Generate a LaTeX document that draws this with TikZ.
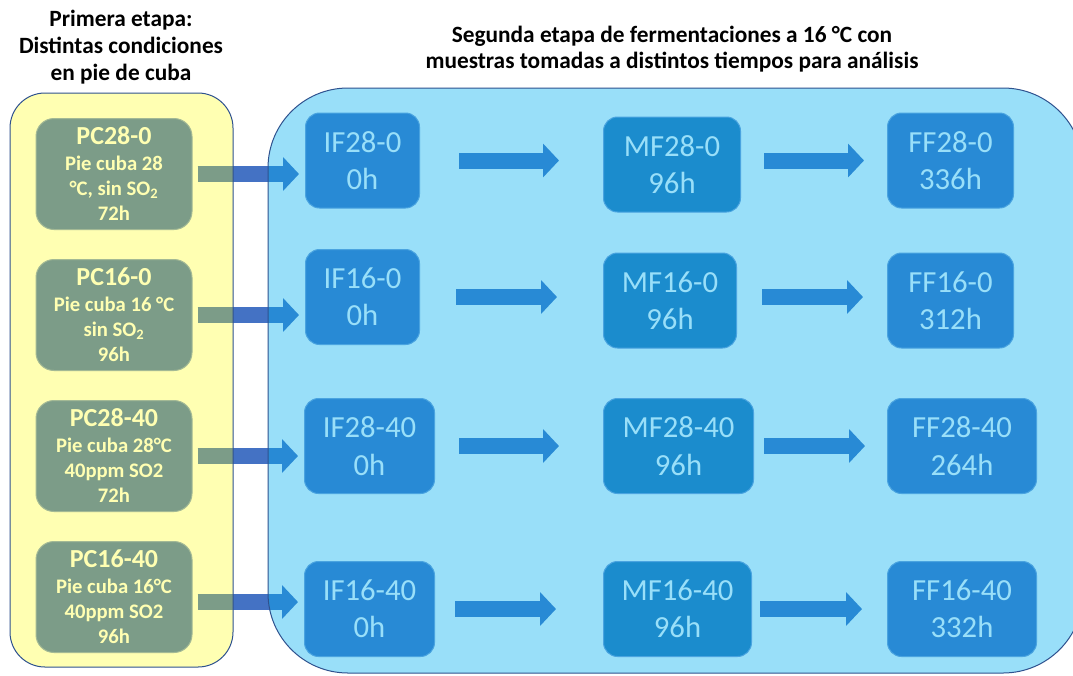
\documentclass[tikz,border=0pt]{standalone}
\usepackage{fontspec}
\setmainfont{Carlito}
\usepackage{xcolor}
\usetikzlibrary{positioning}
\usetikzlibrary{arrows.meta}
\definecolor{boxblue}{HTML}{4472C4}
\definecolor{boxdark}{HTML}{2E75B6}
\definecolor{panelline}{HTML}{2F528F}
\definecolor{panelcyan}{HTML}{00B0F0}
\definecolor{panelyellow}{HTML}{FFFF00}

\begin{document}
\begin{tikzpicture}[x=0.75pt, y=-0.75pt, node distance=21.75pt]
    \tikzstyle{pcbox}=[rectangle, rounded corners=13.5pt, fill=boxblue, draw=boxblue!70!white, line width=0.75pt, text=white, minimum width=117pt, minimum height=83.25pt, inner sep=0pt, align=center, font=\bfseries\fontsize{15.5}{19}\selectfont]
    \tikzstyle{fbox}=[rectangle, rounded corners=10.5pt, fill=boxblue, draw=boxblue!70!white, line width=0.75pt, text=white, minimum height=71.25pt, inner sep=0pt, align=center, anchor=west, font=\fontsize{23}{28}\selectfont]
    \tikzstyle{mbox}=[fbox, fill=boxdark]
    \tikzstyle{blockarrow}=[-{Triangle[width=24.75pt, length=12pt]}, line width=12pt, draw=boxblue]
    \tikzstyle{title}=[align=center, font=\bfseries\fontsize{17.5}{20}\selectfont]
    \newcommand{\pcname}[1]{{\fontsize{19.5}{22}\selectfont #1}}

    \clip (0,0) rectangle (1073,675);
    \fill[white] (0,0) rectangle (1073,675);

    % primera etapa
    \node[pcbox] (pc1) at (114,174) {\pcname{PC28-0}\\Pie cuba 28\\°C, sin SO\textsubscript{2}\\72h};
    \node[pcbox, below=of pc1] (pc2) {\pcname{PC16-0}\\Pie cuba 16 °C\\sin SO\textsubscript{2}\\96h};
    \node[pcbox, below=of pc2] (pc3) {\pcname{PC28-40}\\Pie cuba 28°C\\40ppm SO2\\72h};
    \node[pcbox, below=of pc3] (pc4) {\pcname{PC16-40}\\Pie cuba 16°C\\40ppm SO2\\96h};

    % segunda etapa
    \node[fbox, minimum width=85.5pt] (if1) at (305,160.5) {IF28-0\\0h};
    \node[fbox, minimum width=85.5pt] (if2) at (305,297) {IF16-0\\0h};
    \node[fbox, minimum width=97.5pt] (if3) at (304,446) {IF28-40\\0h};
    \node[fbox, minimum width=97.5pt] (if4) at (304,609) {IF16-40\\0h};

    \node[mbox, minimum width=102.75pt] (mf1) at (603,164.5) {MF28-0\\96h};
    \node[mbox, minimum width=99.75pt] (mf2) at (603,300.5) {MF16-0\\96h};
    \node[mbox, minimum width=112.5pt] (mf3) at (603,446) {MF28-40\\96h};
    \node[mbox, minimum width=111pt] (mf4) at (603,609) {MF16-40\\96h};

    \node[fbox, minimum width=94.5pt] (ff1) at (887,160.5) {FF28-0\\336h};
    \node[fbox, minimum width=94.5pt] (ff2) at (887,300.5) {FF16-0\\312h};
    \node[fbox, minimum width=111.75pt] (ff3) at (887,446) {FF28-40\\264h};
    \node[fbox, minimum width=111.75pt] (ff4) at (887,609) {FF16-40\\332h};

    % flechas
    \draw[blockarrow, shorten <=3.75pt, shorten >=4.5pt] (pc1.east) -- (pc1.east -| if1.west);
    \draw[blockarrow, shorten <=3.75pt, shorten >=4.5pt] (pc2.east) -- (pc2.east -| if2.west);
    \draw[blockarrow, shorten <=3.75pt, shorten >=4.5pt] (pc3.east) -- (pc3.east -| if3.west);
    \draw[blockarrow, shorten <=3.75pt, shorten >=4.5pt] ([yshift=-3.75pt]pc4.east) -- ([yshift=-3.75pt]pc4.east -| if4.west);

    \draw[blockarrow, shorten <=29.25pt, shorten >=33pt] (if1.east) -- (if1.east -| mf1.west);
    \draw[blockarrow, shorten <=27pt, shorten >=34.5pt] (if2.east) -- (if2.east -| mf2.west);
    \draw[blockarrow, shorten <=18pt, shorten >=33pt] (if3.east) -- (if3.east -| mf3.west);
    \draw[blockarrow, shorten <=15pt, shorten >=35.25pt] (if4.east) -- (if4.east -| mf4.west);

    \draw[blockarrow, shorten <=17.25pt, shorten >=17.25pt] (mf1.east |- if1) -- (if1 -| ff1.west);
    \draw[blockarrow, shorten <=18.75pt, shorten >=18pt] (mf2.east |- if2) -- (if2 -| ff2.west);
    \draw[blockarrow, shorten <=7.5pt, shorten >=16.5pt] (mf3.east |- if3) -- (if3 -| ff3.west);
    \draw[blockarrow, shorten <=6pt, shorten >=18.75pt] (mf4.east |- if4) -- (if4 -| ff4.west);

    % paneles
    \draw[panelline, line width=0.75pt, fill=panelyellow, fill opacity=0.3, rounded corners=26.25pt] (10,93) rectangle (233,667);
    \draw[panelline, line width=0.75pt, fill=panelcyan, fill opacity=0.4, rounded corners=60pt] (268,88) rectangle (1083,673);

    \node[title] (etapa1) at (121,47) {Primera etapa:\\Distintas condiciones\\en pie de cuba};
    \node[title] (etapa2) at (672,49) {Segunda etapa de fermentaciones a 16 °C con\\muestras tomadas a distintos tiempos para análisis};
\end{tikzpicture}
\end{document}
